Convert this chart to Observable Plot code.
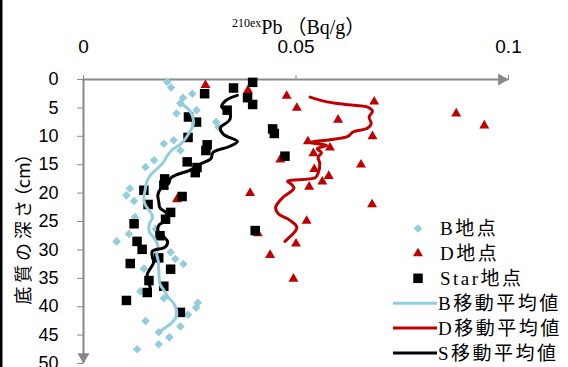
<!DOCTYPE html>
<html><head><meta charset="utf-8">
<script src="https://cdn.jsdelivr.net/npm/d3@7"></script>
<script src="https://cdn.jsdelivr.net/npm/@observablehq/plot@0.6"></script>
<style>
html,body{margin:0;padding:0;background:#fff;}
#chart{width:568px;height:367px;overflow:hidden;}
</style></head><body>
<div id="chart"></div>
<script>
// ---- axis ticks ----
const xTicks = [0, 0.05, 0.1];
const xTickLabels = ["0", "0.05", "0.1"];
const yTicks = [0, 5, 10, 15, 20, 25, 30, 35, 40, 45, 50];
const yTickLabels = ["0", "5", "10", "15", "20", "25", "30", "35", "40", "45", "50"];
const xDomain = [0, 0.1];
const yDomain = [0, 50];

// ---- series names ----
const seriesNames = ["B地点", "D地点", "Star地点", "B移動平均値", "D移動平均値", "S移動平均値"];

// ---- B地点 points (depth cm, 210exPb Bq/g) ----
const bDepth = [0.4, 1.4, 2.5, 3.2, 4.2, 5.4, 6.0, 7.5, 8.4, 10.7, 11.3, 12.5, 14.2, 15.4, 19.2, 20.4, 21.4, 24.2, 26.3, 27.2, 28.5, 30.4, 31.6, 32.5, 33.3, 37.3, 38.5, 39.3, 40.2, 41.4, 42.5, 43.5, 44.5, 45.4, 46.6, 47.5];
const bValue = [0.0197, 0.0206, 0.0256, 0.0234, 0.0228, 0.0266, 0.0219, 0.0312, 0.0318, 0.0212, 0.0189, 0.0228, 0.0166, 0.0146, 0.0109, 0.0101, 0.0119, 0.0121, 0.0170, 0.0107, 0.0078, 0.0205, 0.0216, 0.0235, 0.0142, 0.0134, 0.0189, 0.0269, 0.0265, 0.0246, 0.0146, 0.0228, 0.0177, 0.0202, 0.0177, 0.0126];

// ---- D地点 points ----
const dDepth = [1.0, 1.9, 2.9, 3.9, 5.0, 6.0, 7.1, 8.1, 10.0, 10.9, 12.0, 13.0, 14.1, 15.0, 15.8, 17.0, 18.0, 18.9, 20.0, 21.1, 22.0, 24.9, 27.1, 28.9, 30.9, 35.1];
const dValue = [0.0287, 0.0387, 0.0478, 0.0684, 0.0502, 0.0877, 0.0599, 0.0943, 0.0680, 0.0528, 0.0580, 0.0541, 0.0463, 0.0653, 0.0543, 0.0577, 0.0562, 0.0531, 0.0392, 0.0220, 0.0679, 0.0525, 0.0410, 0.0500, 0.0439, 0.0494];

// ---- Star地点 points ----
const sDepth = [0.5, 1.5, 2.5, 3.2, 4.4, 5.4, 6.6, 7.5, 8.7, 9.5, 10.2, 11.5, 12.5, 13.5, 14.5, 15.5, 16.4, 17.5, 18.6, 19.5, 20.6, 22.0, 23.4, 24.6, 25.4, 26.6, 27.5, 28.5, 29.9, 31.4, 32.4, 33.4, 35.4, 36.4, 37.5, 38.9, 41.0];
const sValue = [0.0398, 0.0353, 0.0285, 0.0386, 0.0398, 0.0338, 0.0247, 0.0266, 0.0445, 0.0449, 0.0246, 0.0291, 0.0288, 0.0474, 0.0244, 0.0267, 0.0263, 0.0191, 0.0189, 0.0142, 0.0232, 0.0152, 0.0205, 0.0193, 0.0119, 0.0404, 0.0180, 0.0126, 0.0138, 0.0177, 0.0110, 0.0205, 0.0154, 0.0189, 0.0150, 0.0101, 0.0228];

// ---- B移動平均値 line ----
const bAvgDepth = [4.5, 5.5, 6.6, 8.0, 9.2, 10.4, 11.4, 12.3, 13.4, 14.6, 15.8, 17.0, 18.2, 19.5, 20.8, 22.0, 23.2, 24.2, 25.4, 26.8, 27.8, 29.2, 30.6, 32.0, 33.3, 34.8, 36.0, 37.2, 38.4, 39.4, 40.4, 41.6, 42.8, 43.8, 44.6];
const bAvgValue = [0.0235, 0.0250, 0.0257, 0.0258, 0.0250, 0.0240, 0.0228, 0.0210, 0.0197, 0.0188, 0.0172, 0.0156, 0.0148, 0.0145, 0.0142, 0.0145, 0.0156, 0.0163, 0.0155, 0.0155, 0.0165, 0.0175, 0.0172, 0.0176, 0.0177, 0.0178, 0.0180, 0.0190, 0.0200, 0.0212, 0.0218, 0.0219, 0.0208, 0.0190, 0.0175];

// ---- D移動平均値 line ----
const dAvgDepth = [3.1, 3.9, 4.4, 4.9, 5.6, 6.6, 7.8, 8.6, 9.2, 10.0, 10.6, 11.1, 11.6, 12.2, 12.9, 13.7, 14.8, 16.5, 17.3, 17.9, 18.5, 19.2, 20.7, 22.5, 23.6, 24.8, 26.0, 27.0, 27.8, 28.5];
const dAvgValue = [0.0533, 0.0570, 0.0615, 0.0670, 0.0680, 0.0672, 0.0677, 0.0668, 0.0635, 0.0622, 0.0580, 0.0533, 0.0572, 0.0550, 0.0560, 0.0552, 0.0556, 0.0552, 0.0545, 0.0480, 0.0490, 0.0495, 0.0470, 0.0452, 0.0458, 0.0486, 0.0502, 0.0495, 0.0484, 0.0474];

// ---- S移動平均値 line ----
const sAvgDepth = [2.8, 3.7, 4.8, 6.0, 7.2, 8.5, 9.7, 10.9, 11.8, 12.8, 13.9, 14.9, 16.0, 16.8, 17.4, 18.3, 19.2, 20.3, 21.5, 22.6, 23.5, 24.6, 25.6, 26.6, 27.6, 28.6, 29.5, 30.2, 31.2, 32.2, 33.2, 34.3, 35.4, 36.6];
const sAvgValue = [0.0362, 0.0335, 0.0325, 0.0345, 0.0343, 0.0322, 0.0330, 0.0362, 0.0343, 0.0305, 0.0300, 0.0275, 0.0250, 0.0218, 0.0205, 0.0200, 0.0182, 0.0175, 0.0177, 0.0180, 0.0195, 0.0200, 0.0178, 0.0175, 0.0188, 0.0198, 0.0192, 0.0162, 0.0162, 0.0165, 0.0158, 0.0150, 0.0152, 0.0157];

const colB = "#93CDDD", colD = "#C00000", colS = "#000000", axisGray = "#888888";
const toRows = (ds, vs) => ds.map((d, i) => ({depth: d, value: vs[i]}));

const W = 568, H = 367;
const plot = Plot.plot({
  width: W, height: H,
  marginTop: 79, marginLeft: 83, marginRight: 60, marginBottom: 4,
  style: {background: "#fff", fontFamily: "Liberation Sans, Arial, sans-serif", overflow: "visible"},
  x: {domain: xDomain},
  y: {domain: yDomain, reverse: true},
  marks: [
    Plot.ruleY([yDomain[0]], {stroke: axisGray, strokeWidth: 2}),
    Plot.ruleX([xDomain[0]], {stroke: axisGray, strokeWidth: 2}),
    Plot.axisX({anchor: "top", ticks: xTicks, tickFormat: d => xTickLabels[xTicks.indexOf(d)], tickSize: 5, tickPadding: 22, stroke: axisGray, fill: "#000", fontSize: 19, label: null}),
    Plot.axisY({anchor: "left", ticks: yTicks, tickFormat: d => yTickLabels[yTicks.indexOf(d)], tickSize: 6, tickPadding: 19, stroke: axisGray, fill: "#000", fontSize: 18, label: null}),
    Plot.dot([{x: xDomain[1], y: yDomain[0]}], {x: "x", y: "y", symbol: "triangle", r: 4.46, rotate: 90, dx: -6.9, fill: axisGray, stroke: "none"}),
    Plot.dot([{x: xDomain[0], y: yDomain[1]}], {x: "x", y: "y", symbol: "triangle", r: 4.46, rotate: 180, dy: -6.9, fill: axisGray, stroke: "none"}),
    Plot.dot(toRows(bDepth, bValue), {x: "value", y: "depth", symbol: "diamond2", r: 3.85, fill: colB, stroke: "none"}),
    Plot.dot(toRows(dDepth, dValue), {x: "value", y: "depth", symbol: "triangle", r: 3.7, fill: colD, stroke: "none"}),
    Plot.dot(toRows(sDepth, sValue), {x: "value", y: "depth", symbol: "square", r: 5.36, fill: colS, stroke: "none"}),
    Plot.line(toRows(bAvgDepth, bAvgValue), {x: "value", y: "depth", stroke: colB, strokeWidth: 3, curve: "catmull-rom"}),
    Plot.line(toRows(dAvgDepth, dAvgValue), {x: "value", y: "depth", stroke: colD, strokeWidth: 3, curve: "catmull-rom"}),
    Plot.line(toRows(sAvgDepth, sAvgValue), {x: "value", y: "depth", stroke: colS, strokeWidth: 3, curve: "catmull-rom"})
  ]
});
document.getElementById("chart").appendChild(plot);

const svg = d3.select(plot);
const serif = "Liberation Serif, Times New Roman, Noto Sans CJK JP, serif";
// left border
svg.append("rect").attr("x", 0).attr("y", 0).attr("width", 2.5).attr("height", H).attr("fill", "#000");
// title
const t = svg.append("text").attr("x", 232).attr("y", 34).attr("text-anchor", "start")
  .attr("font-family", serif).attr("font-size", 20).attr("fill", "#000");
t.append("tspan").attr("font-size", 12).attr("dy", -7).text("210ex");
t.append("tspan").attr("dy", 7).text("Pb");
t.append("tspan").attr("dx", 4).text("（Bq/g）");
// y label
const yl = svg.append("text").attr("transform", "translate(22,229) rotate(-90)").attr("text-anchor", "middle")
  .attr("dominant-baseline", "central").attr("font-family", "Noto Sans CJK JP, sans-serif").attr("font-size", 18)
  .style("font-feature-settings", "'palt'").attr("fill", "#000");
yl.append("tspan").attr("letter-spacing", 4).text("底質の深さ");
yl.append("tspan").attr("letter-spacing", 0).text("（cm）");
// legend
const legend = [
  {type: "dot", sym: d3.symbolDiamond2, size: Math.PI * 3.85 * 3.85, color: colB},
  {type: "dot", sym: d3.symbolTriangle, size: Math.PI * 3.7 * 3.7, color: colD},
  {type: "dot", sym: d3.symbolSquare, size: Math.PI * 5.36 * 5.36, color: colS},
  {type: "line", color: colB},
  {type: "line", color: colD},
  {type: "line", color: colS}
];
const lg = svg.append("g");
legend.forEach((it, i) => {
  const cy = 228.5 + i * 24.9;
  if (it.type === "dot") {
    lg.append("path").attr("d", d3.symbol(it.sym, it.size)()).attr("transform", `translate(418,${cy})`).attr("fill", it.color);
  } else {
    lg.append("line").attr("x1", 393).attr("x2", 437).attr("y1", cy).attr("y2", cy).attr("stroke", it.color).attr("stroke-width", 3);
  }
  lg.append("text").attr("x", it.type === "dot" ? 440 : 438).attr("y", cy).attr("dominant-baseline", "central")
    .attr("text-anchor", "start")
    .attr("font-family", serif).attr("font-size", 19)
    .attr("letter-spacing", 2.5).attr("fill", "#000").text(seriesNames[i]);
});
</script>
</body></html>
